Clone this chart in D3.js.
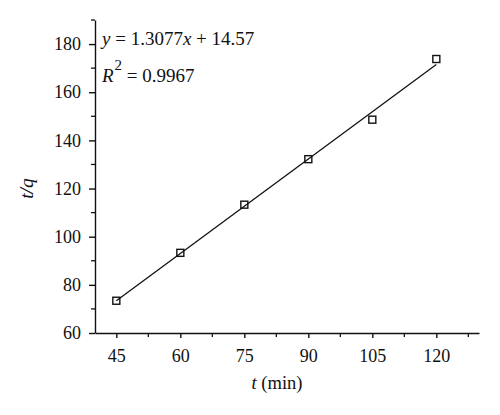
<!DOCTYPE html>
<html>
<head>
<meta charset="utf-8">
<script src="https://cdn.jsdelivr.net/npm/d3@7"></script>
<style>
  body { margin: 0; background: #fff; }
  text { font-family: "Liberation Serif", "DejaVu Serif", serif; fill: #111; }
</style>
</head>
<body>
<svg id="chart" width="500" height="415"></svg>
<script>
// pseudo-second-order fit: t/q against t
const times = [45, 60, 75, 90, 105, 120]
const tOverQ = [73.4, 93.3, 113.3, 132.2, 148.6, 173.8]
const xTicks = [45, 60, 75, 90, 105, 120]
const yTicks = [60, 80, 100, 120, 140, 160, 180]
const slope = 1.3077
const intercept = 14.57
const r2 = 0.9967

const margin = { left: 95, top: 20, right: 21, bottom: 82 }
const width = 500, height = 415

const svg = d3.select('#chart')

const x = d3.scaleLinear().domain([40, 130]).range([margin.left, width - margin.right])
const y = d3.scaleLinear().domain([60, 190]).range([height - margin.bottom, margin.top])

const ink = '#111'

// axes
const xAxis = svg.append('g')
  .attr('transform', `translate(0, ${y(60)})`)
  .call(d3.axisBottom(x).tickValues(xTicks).tickSize(5).tickSizeOuter(0).tickPadding(11))
xAxis.append('g').selectAll('line')
  .data(d3.range(52.5, 130, 15))
  .join('line')
  .attr('x1', d => x(d)).attr('x2', d => x(d))
  .attr('y1', 0).attr('y2', 4)
  .attr('stroke', ink).attr('stroke-width', 1.3)

const yAxis = svg.append('g')
  .attr('transform', `translate(${x(40)}, 0)`)
  .call(d3.axisLeft(y).tickValues(yTicks).tickSize(6).tickSizeOuter(0).tickPadding(8))
yAxis.append('g').selectAll('line')
  .data(d3.range(70, 191, 20))
  .join('line')
  .attr('x1', 0).attr('x2', -4)
  .attr('y1', d => y(d)).attr('y2', d => y(d))
  .attr('stroke', ink).attr('stroke-width', 1.3)

svg.selectAll('.domain, .tick line').attr('stroke', ink).attr('stroke-width', 1.4)
svg.selectAll('.tick text').attr('font-size', 18).attr('fill', ink)
  .style('font-family', '"Liberation Serif", serif')

// fitted line
svg.append('line')
  .attr('x1', x(45)).attr('y1', y(slope * 45 + intercept))
  .attr('x2', x(120)).attr('y2', y(slope * 120 + intercept))
  .attr('stroke', ink).attr('stroke-width', 1.3)

// data markers
const s = 7
svg.append('g').selectAll('rect')
  .data(times)
  .join('rect')
  .attr('x', (d, i) => x(d) - s / 2)
  .attr('y', (d, i) => y(tOverQ[i]) - s / 2)
  .attr('width', s).attr('height', s)
  .attr('fill', 'none').attr('stroke', ink).attr('stroke-width', 1.4)

// equation and R²
const eq = svg.append('text').attr('x', 102).attr('y', 45).attr('font-size', 19)
eq.append('tspan').attr('font-style', 'italic').text('y')
eq.append('tspan').text(` = ${slope}`)
eq.append('tspan').attr('font-style', 'italic').text('x')
eq.append('tspan').text(` + ${intercept}`)

const rt = svg.append('text').attr('x', 102).attr('y', 81.5).attr('font-size', 19)
rt.append('tspan').attr('font-style', 'italic').text('R')
rt.append('tspan').attr('font-size', 15).attr('dx', 1).attr('dy', -12).text('2')
rt.append('tspan').attr('dy', 12).text(` = ${r2}`)

// axis titles
const xt = svg.append('text').attr('x', 277).attr('y', 389)
  .attr('text-anchor', 'middle').attr('font-size', 18.5)
xt.append('tspan').attr('font-style', 'italic').text('t')
xt.append('tspan').text(' (min)')

svg.append('text')
  .attr('transform', `translate(33, ${y(120)}) rotate(-90)`)
  .attr('text-anchor', 'middle').attr('font-size', 19.5).attr('font-style', 'italic')
  .text('t/q')
</script>
</body>
</html>
